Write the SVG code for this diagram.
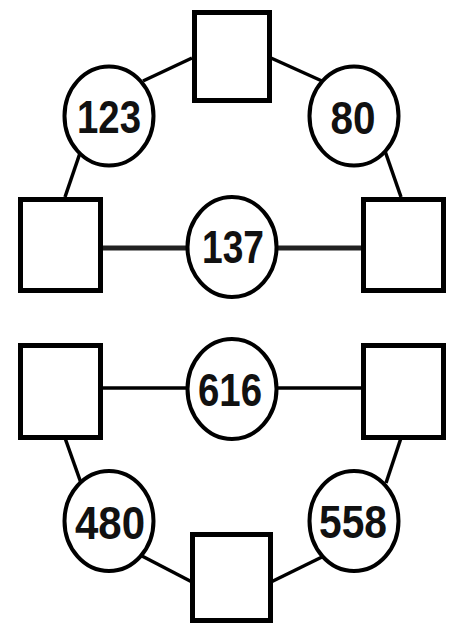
<svg xmlns="http://www.w3.org/2000/svg" width="456" height="623" viewBox="0 0 456 623">
<style>
.sq{fill:#fff;stroke:#000;stroke-width:5}
.ci{fill:#fff;stroke:#000;stroke-width:4}
.lb{font-family:"Liberation Sans",Arial,sans-serif;font-weight:bold;font-size:46px;fill:#111;text-anchor:middle}
.ln{stroke:#000;stroke-width:3.5;fill:none}
.lh{stroke:#222;stroke-width:5;fill:none}
</style>
<rect width="456" height="623" fill="#fff"/>
<g id="connectors">
<line class="ln" x1="192" y1="58" x2="143" y2="81"/>
<line class="ln" x1="80" y1="153" x2="65" y2="197"/>
<line class="ln" x1="271" y1="58" x2="322" y2="81"/>
<line class="ln" x1="385" y1="151" x2="401" y2="197"/>
<line class="lh" x1="102" y1="248" x2="186" y2="248"/>
<line class="lh" x1="278" y1="248" x2="361" y2="248"/>
<line class="ln" x1="102" y1="388" x2="186" y2="388"/>
<line class="ln" x1="278" y1="388" x2="361" y2="388"/>
<line class="ln" x1="65" y1="438" x2="81" y2="483"/>
<line class="ln" x1="142" y1="556" x2="192" y2="582"/>
<line class="ln" x1="401" y1="438" x2="386" y2="483"/>
<line class="ln" x1="324" y1="556" x2="271" y2="582"/>
</g>
<g id="sq-top"><rect class="sq" x="194.5" y="12.5" width="75" height="88"/></g>
<g id="sq-left-mid"><rect class="sq" x="20.5" y="199.5" width="80" height="91"/></g>
<g id="sq-right-mid"><rect class="sq" x="363.5" y="199.5" width="80" height="91"/></g>
<g id="sq-left-bot"><rect class="sq" x="20.5" y="345.5" width="80" height="92"/></g>
<g id="sq-right-bot"><rect class="sq" x="363.5" y="345.5" width="80" height="92"/></g>
<g id="sq-bottom"><rect class="sq" x="192.5" y="534.5" width="78" height="86"/></g>
<g id="n123"><ellipse class="ci" cx="109" cy="116" rx="44.5" ry="49.5"/><text class="lb" x="109" y="133" textLength="64" lengthAdjust="spacingAndGlyphs">123</text></g>
<g id="n80"><ellipse class="ci" cx="354" cy="116" rx="44.5" ry="49.5"/><text class="lb" x="353" y="134" textLength="45" lengthAdjust="spacingAndGlyphs">80</text></g>
<g id="n137"><ellipse class="ci" cx="232" cy="247" rx="44.5" ry="50"/><text class="lb" x="233" y="263" textLength="62" lengthAdjust="spacingAndGlyphs">137</text></g>
<g id="n616"><ellipse class="ci" cx="232" cy="389" rx="44.5" ry="50"/><text class="lb" x="230" y="406" textLength="64" lengthAdjust="spacingAndGlyphs">616</text></g>
<g id="n480"><ellipse class="ci" cx="109" cy="521" rx="44.5" ry="50"/><text class="lb" x="110" y="539" textLength="70" lengthAdjust="spacingAndGlyphs">480</text></g>
<g id="n558"><ellipse class="ci" cx="354" cy="521" rx="44.5" ry="50"/><text class="lb" x="353" y="538" textLength="68" lengthAdjust="spacingAndGlyphs">558</text></g>
</svg>
